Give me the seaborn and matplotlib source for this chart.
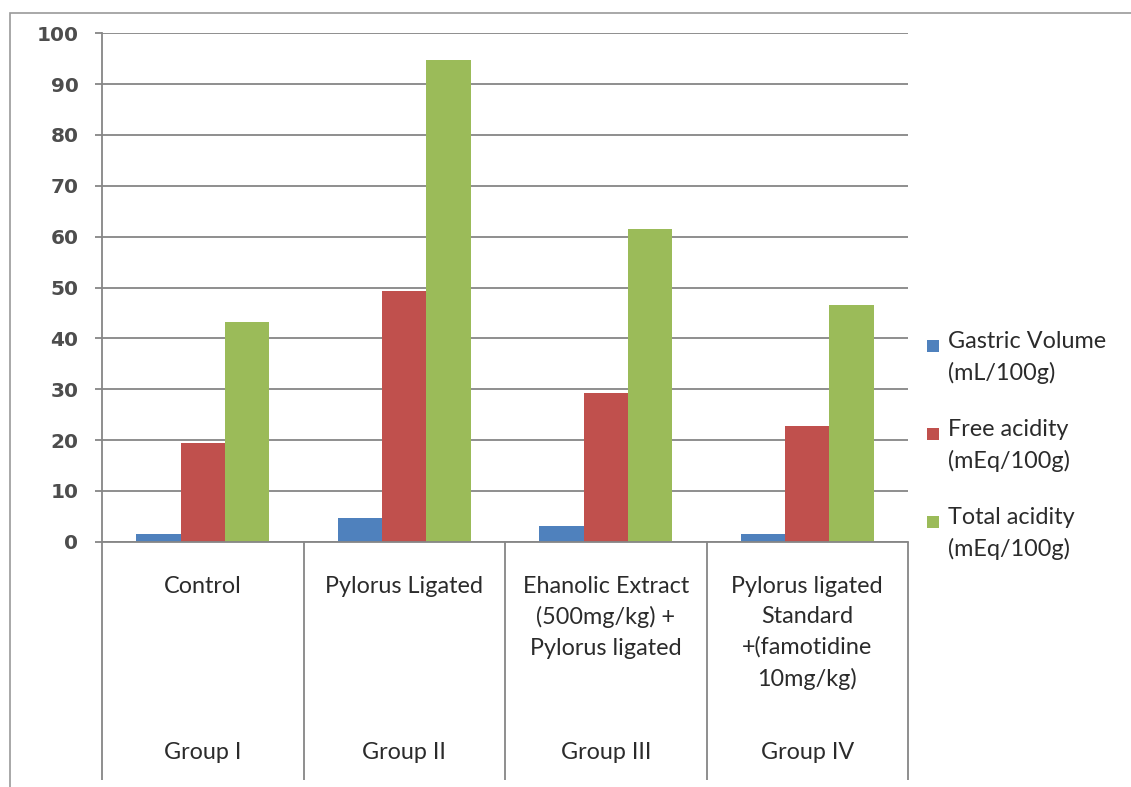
import matplotlib
matplotlib.use("Agg")
import matplotlib.pyplot as plt
import seaborn as sns
import pandas as pd
import numpy as np
from matplotlib.patches import Rectangle
from matplotlib.container import BarContainer
from matplotlib.legend_handler import HandlerBase
from matplotlib.transforms import blended_transform_factory

# --- data -------------------------------------------------------------
groups = ["Group I", "Group II", "Group III", "Group IV"]
treatments = [
    "Control",
    "Pylorus Ligated",
    "Ehanolic Extract\n(500mg/kg) +\nPylorus ligated",
    "Pylorus ligated\nStandard\n+(famotidine\n10mg/kg)",
]
series = [
    "Gastric Volume\n(mL/100g)",
    "Free acidity\n(mEq/100g)",
    "Total acidity\n(mEq/100g)",
]
gastric_volume = [1.6, 4.6, 3.1, 1.6]
free_acidity = [19.4, 49.4, 29.3, 22.8]
total_acidity = [43.2, 94.7, 61.6, 46.6]
y_ticks = list(range(0, 101, 10))
colors = ["#4F81BD", "#C0504D", "#9BBB59"]

df = pd.DataFrame({
    "group": groups * 3,
    "series": np.repeat(series, len(groups)),
    "value": gastric_volume + free_acidity + total_acidity,
})

sns.set_theme(style="white")
plt.rcParams["font.family"] = ["Lato", "DejaVu Sans"]

GRID = "#868686"
TEXT = "#2b2b2b"
W, H = 1131, 787
FS = 16.8

fig = plt.figure(figsize=(W / 100, H / 100), dpi=100)
fig.patch.set_facecolor("white")
ax = fig.add_axes([102 / W, (H - 541.7) / H, 806 / W, 508.4 / H])

sns.barplot(
    data=df, x="group", y="value", hue="series",
    order=groups, hue_order=series, palette=colors,
    width=0.66, gap=0, saturation=1, errorbar=None,
    edgecolor="none", linewidth=0, ax=ax, legend=True,
)

ax.set_xlim(-0.5, len(groups) - 0.5)
ax.set_ylim(0, 100)
ax.set_yticks(y_ticks)
ax.set_xticks([])
ax.set_xlabel("")
ax.set_ylabel("")
ax.set_axisbelow(True)
ax.yaxis.grid(True, color=GRID, linewidth=1.3)
ax.xaxis.grid(False)
for side in ("top", "right"):
    ax.spines[side].set_visible(False)
for side in ("left", "bottom"):
    ax.spines[side].set_color(GRID)
    ax.spines[side].set_linewidth(1.3)
ax.tick_params(axis="y", left=True, length=5, width=1.3, color=GRID,
               pad=12, labelsize=14.5, labelcolor="#4d4d4d")
for lab in ax.get_yticklabels():
    lab.set_fontfamily("DejaVu Sans")
    lab.set_fontweight("bold")

# two-level category axis below the plot
tr = blended_transform_factory(ax.transData, ax.transAxes)
for b in np.arange(-0.5, len(groups), 1.0):
    ax.plot([b, b], [0, -0.469], transform=tr, color=GRID, lw=1.3,
            clip_on=False, solid_capstyle="butt")
for i, (g, t) in enumerate(zip(groups, treatments)):
    ax.text(i, -0.0665, t, transform=tr, ha="center", va="top",
            fontsize=FS, linespacing=1.54, color=TEXT)
    ax.text(i, -0.4156, g, transform=tr, ha="center", va="center",
            fontsize=FS, color=TEXT)


# legend keys sit beside the first line of each two-line label
class TopSquare(HandlerBase):
    def create_artists(self, legend, orig_handle, xdescent, ydescent,
                       width, height, fontsize, trans):
        src = orig_handle.patches[0] if isinstance(orig_handle, BarContainer) else orig_handle
        s = 0.52 * fontsize
        y0 = 0.6 * fontsize
        return [Rectangle((-xdescent, y0), s, s, facecolor=src.get_facecolor(),
                          edgecolor="none", transform=trans)]


handles, labels = ax.get_legend_handles_labels()
ax.get_legend().remove()
leg = ax.legend(
    handles, labels,
    handler_map={type(h): TopSquare() for h in handles},
    loc="upper left", bbox_to_anchor=(927 / W, 1 - 331 / H),
    bbox_transform=fig.transFigure, frameon=False, fontsize=FS,
    handlelength=0.62, handletextpad=0.3, labelspacing=1.5,
    borderpad=0, borderaxespad=0,
)
for t in leg.get_texts():
    t.set_color(TEXT)
    t.set_linespacing(1.54)

# outer chart frame
fig.patches.append(Rectangle((10 / W, -0.05), 1.2, 1 - 13 / H + 0.05,
                             transform=fig.transFigure, fill=False,
                             edgecolor="#9a9a9a", linewidth=1.2))

fig.savefig("out.png", dpi=100)
